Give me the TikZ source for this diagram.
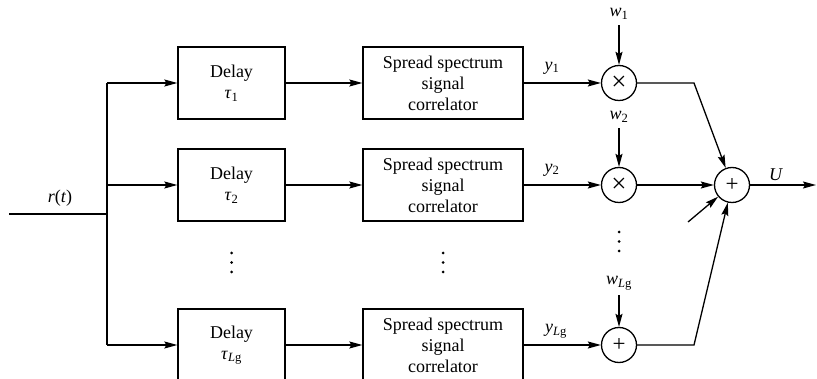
\documentclass[tikz,border=0pt]{standalone}
\usepackage{fontspec}
\setmainfont{Liberation Serif}
\usetikzlibrary{arrows.meta,positioning}
\newcommand{\subsig}[2]{\textit{#1}\textsubscript{#2}}

\begin{document}
\begin{tikzpicture}[
  x=1pt,y=-1pt,
  font=\fontsize{18}{21}\selectfont,
  line width=1.3pt,
  delaybox/.style={draw,minimum width=107pt,minimum height=72pt,
    align=center,inner sep=2pt},
  corrbox/.style={draw,minimum width=160pt,minimum height=72pt,
    align=center,inner sep=2pt},
  opnode/.style={draw,circle,minimum size=35pt,inner sep=0pt,
    font=\fontsize{23}{23}\selectfont},
  wlabel/.style={inner sep=5pt},
  arr/.style={-{Stealth[length=13pt,width=7pt,inset=2pt]}}
]
  \clip (0,0) rectangle (817,379);

  % input and splitting
  \coordinate (in) at (9,214);
  \coordinate (split) at (107,214);
  \coordinate (jtop) at (107,83);
  \coordinate (jmid) at (107,185);
  \coordinate (jbot) at (107,345);
  \node (rt) at (60,198) {\textit{r}(\textit{t})};

  % delays
  \node[delaybox] (d1) at (231.5,83) {Delay\\\subsig{τ}{1}};
  \node[delaybox] (d2) at (231.5,185) {Delay\\\subsig{τ}{2}};
  \node[delaybox] (d3) at (231.5,345) {Delay\\\subsig{τ}{\textit{L}g}};

  % correlators
  \node[corrbox] (c1) at (443,83) {Spread spectrum\\signal\\correlator};
  \node[corrbox] (c2) at (443,185) {Spread spectrum\\signal\\correlator};
  \node[corrbox] (c3) at (443,345) {Spread spectrum\\signal\\correlator};

  % weighting
  \node[opnode,font=\fontsize{27}{27}\selectfont] (m1) at (619,83) {×};
  \node[opnode,font=\fontsize{27}{27}\selectfont] (m2) at (619,185) {×};
  \node[opnode] (m3) at (619,345) {+};
  \node[wlabel] (w1) at (619,14) {\subsig{w}{1}};
  \node[wlabel] (w2) at (619,117) {\subsig{w}{2}};
  \node[wlabel] (w3) at (619,283) {\subsig{w}{\textit{L}g}};
  \node (y1) at (552,68) {\subsig{y}{1}};
  \node (y2) at (552,170) {\subsig{y}{2}};
  \node (y3) at (556,331) {\subsig{y}{\textit{L}g}};

  % combiner
  \node[opnode] (s) at (732,185) {+};
  \coordinate (k1) at (694,83);
  \coordinate (k3) at (694,345);
  \coordinate (tail) at (688,222);
  \coordinate (out) at (816,185);
  \node (u) at (776,175) {\textit{U}};

  \draw (in) -- (split);
  \draw (jtop) -- (jbot);
  \draw[arr] (jtop) -- (d1);
  \draw[arr] (jmid) -- (d2);
  \draw[arr] (jbot) -- (d3);
  \draw[arr] (d1) -- (c1);
  \draw[arr] (d2) -- (c2);
  \draw[arr] (d3) -- (c3);
  \draw[arr] (c1) -- (m1);
  \draw[arr] (c2) -- (m2);
  \draw[arr] (c3) -- (m3);
  \draw[arr] (w1) -- (m1);
  \draw[arr] (w2) -- (m2);
  \draw[arr] (w3) -- (m3);
  \draw[arr] (m1) -- (k1) -- (s);
  \draw[arr] (m2) -- (s);
  \draw[arr] (m3) -- (k3) -- (s);
  \draw[arr] (tail) -- (s);
  \draw[arr] (s) -- (out);

  % vertical dots
  \foreach \px/\py in {231.5/253,443/253,619/232}
    \foreach \k in {0,1,2}
      \fill (\px,\py+9.5*\k) circle (1.5pt);
\end{tikzpicture}
\end{document}
